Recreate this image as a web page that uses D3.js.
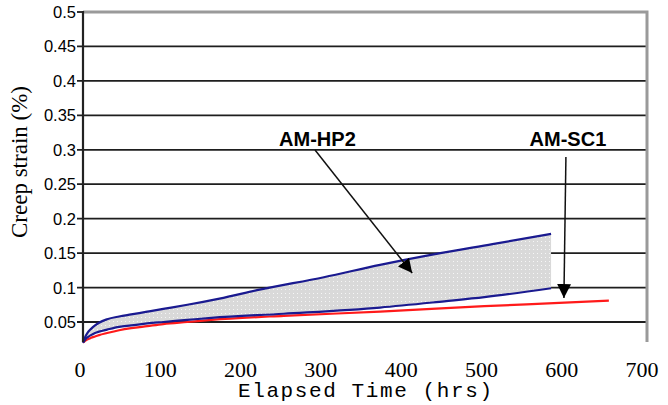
<!DOCTYPE html>
<html><head><meta charset="utf-8">
<script src="https://cdn.jsdelivr.net/npm/d3@7"></script>
<style>body{margin:0;background:#fff}svg{display:block}</style>
</head><body><svg id="c" width="668" height="405"></svg>
<script>
const yTicks = [0.05,0.1,0.15,0.2,0.25,0.3,0.35,0.4,0.45,0.5];
const yTickLabels = ["0.05","0.1","0.15","0.2","0.25","0.3","0.35","0.4","0.45","0.5"];
const xTicks = [0,100,200,300,400,500,600,700];
const hp2UpperHrs = [0,3,6,10,15,20,30,45,60,80,100,130,170,220,300,370,445,510,583];
const hp2UpperVal = [0.02,0.029,0.035,0.040,0.045,0.049,0.054,0.058,0.061,0.065,0.069,0.075,0.084,0.097,0.115,0.133,0.150,0.163,0.178];
const hp2LowerHrs = [0,3,6,10,15,20,30,45,60,80,100,130,160,250,370,450,500,583];
const hp2LowerVal = [0.02,0.025,0.028,0.031,0.034,0.036,0.039,0.043,0.045,0.048,0.050,0.053,0.056,0.062,0.071,0.080,0.086,0.099];
const sc1Hrs = [0,3,6,10,15,20,30,45,60,80,100,130,160,250,370,500,600,655];
const sc1Val = [0.02,0.023,0.025,0.027,0.029,0.031,0.034,0.038,0.041,0.044,0.047,0.050,0.053,0.059,0.065,0.073,0.078,0.081];
const labels = ["AM-HP2","AM-SC1"];
const labelPos = [[292,0.30],[604,0.30]];
const arrowFrom = [[289,0.2997],[601.5,0.2895]];
const arrowTo = [[410,0.121],[599,0.0848]];

const SERIF = "'Liberation Serif', 'Times New Roman', serif";
const SANS = "'Liberation Sans', Arial, sans-serif";
const MONO = "'Liberation Mono', 'Courier New', monospace";

const svg = d3.select("#c");
const L=83,R=647,T=12,B=342;
const x = d3.scaleLinear().domain([0,700]).range([83,645]);
const y = d3.scaleLinear().domain([0.05,0.5]).range([322,12]);

const defs = svg.append("defs");
const pat = defs.append("pattern").attr("id","dots").attr("patternUnits","userSpaceOnUse").attr("width",4).attr("height",4);
pat.append("rect").attr("width",4).attr("height",4).attr("fill","#d9d9d9");
pat.append("rect").attr("x",1).attr("y",1).attr("width",1).attr("height",1).attr("fill","#f6f6f6");
defs.append("marker").attr("id","ah").attr("viewBox","0 0 10 10").attr("refX",10).attr("refY",5)
  .attr("markerWidth",14).attr("markerHeight",14).attr("markerUnits","userSpaceOnUse").attr("orient","auto")
  .append("path").attr("d","M0,0L10,5L0,10Z").attr("fill","#000");

// gridlines
svg.append("g").selectAll("line").data(yTicks.slice(0,-1)).join("line")
  .attr("x1",L-6).attr("x2",R).attr("y1",d=>y(d)).attr("y2",d=>y(d))
  .attr("stroke","#1e1e1e").attr("stroke-width",1.8);
svg.append("line").attr("x1",L-6).attr("x2",L).attr("y1",y(0.5)).attr("y2",y(0.5)).attr("stroke","#1e1e1e").attr("stroke-width",1.8);
// border gray
svg.append("path").attr("d",`M${L},${T}H${R}V${B}`).attr("fill","none").attr("stroke","#9a9a9a").attr("stroke-width",3);

// fill area
const up = hp2UpperHrs.map((h,i)=>[h,hp2UpperVal[i]]);
const lo = hp2LowerHrs.map((h,i)=>[h,hp2LowerVal[i]]);
const sc = sc1Hrs.map((h,i)=>[h,sc1Val[i]]);
const line = d3.line().x(d=>x(d[0])).y(d=>y(d[1])).curve(d3.curveMonotoneX);
const areaPath = line(up) + "L" + line(lo.slice().reverse()).slice(1) + "Z";
svg.append("path").attr("d",areaPath).attr("fill","url(#dots)");
svg.append("path").attr("d",line(sc)).attr("fill","none").attr("stroke","#ff1a1a").attr("stroke-width",2.2);
svg.append("path").attr("d",line(lo)).attr("fill","none").attr("stroke","#1a1a90").attr("stroke-width",2.2);
svg.append("path").attr("d",line(up)).attr("fill","none").attr("stroke","#1a1a90").attr("stroke-width",2.2);

// y axis line
svg.append("line").attr("x1",L).attr("x2",L).attr("y1",T-1).attr("y2",B).attr("stroke","#222").attr("stroke-width",2.2);

// y tick labels
svg.append("g").selectAll("text").data(yTicks).join("text").style("font-family",SANS)
  .attr("x",76).attr("y",d=>y(d)+6).attr("text-anchor","end").attr("font-size",16.5)
  .text((d,i)=>yTickLabels[i]);
// x tick labels
svg.append("g").selectAll("text").data(xTicks).join("text").style("font-family",SERIF)
  .attr("x",d=>x(d)-3).attr("y",377).attr("text-anchor","middle").attr("font-size",22)
  .text(d=>d);
// axis titles
svg.append("text").style("font-family",MONO).attr("x",365).attr("y",397).attr("text-anchor","middle")
  .attr("font-size",21).attr("textLength",254).attr("lengthAdjust","spacing")
  .text("Elapsed Time (hrs)");
svg.append("text").style("font-family",SERIF).attr("transform","translate(27,162) rotate(-90)").attr("text-anchor","middle")
  .attr("font-size",23)
  .text("Creep strain (%)");

// annotations
svg.append("g").selectAll("line").data(arrowFrom).join("line")
  .attr("x1",d=>x(d[0])).attr("y1",d=>y(d[1]))
  .attr("x2",(d,i)=>x(arrowTo[i][0])).attr("y2",(d,i)=>y(arrowTo[i][1]))
  .attr("stroke","#111").attr("stroke-width",1.5).attr("marker-end","url(#ah)");
svg.append("g").selectAll("text").data(labels).join("text").style("font-family",SANS)
  .attr("x",(d,i)=>x(labelPos[i][0])).attr("y",(d,i)=>y(labelPos[i][1])-4).attr("text-anchor","middle")
  .attr("font-weight","bold").attr("font-size",20)
  .text(d=>d);
</script></body></html>
